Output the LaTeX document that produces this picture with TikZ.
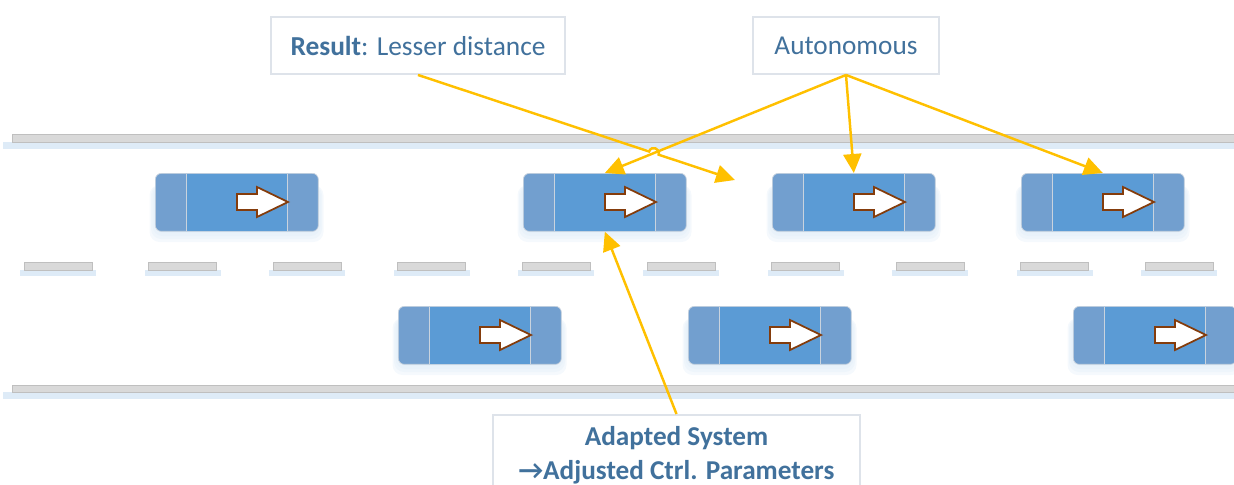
\documentclass[tikz,border=0pt]{standalone}
\usepackage{fontspec}
\setmainfont{Carlito}
\usetikzlibrary{calc,arrows.meta}

\definecolor{roadgray}{HTML}{D9D9D9}
\definecolor{roadedge}{HTML}{BFBFBF}
\definecolor{glow}{HTML}{DEEBF7}
\definecolor{carside}{HTML}{729FCF}
\definecolor{carmid}{HTML}{5B9BD5}
\definecolor{cardiv}{HTML}{C9D3DE}
\definecolor{arrowbrown}{HTML}{843C0C}
\definecolor{textblue}{HTML}{41719C}
\definecolor{boxedge}{HTML}{DEE3EA}
\definecolor{linkgold}{HTML}{FFC000}

\tikzset{
  car/.style={anchor=north west, draw=cardiv, fill=carside, rounded corners=0.12cm,
    minimum width=3.26cm, minimum height=1.16cm, inner sep=0pt},
  carglow/.style={fill=glow, opacity=0.3, rounded corners=0.2cm},
  labelbox/.style={draw=boxedge, line width=1.1pt, fill=white, text=textblue, inner sep=0pt},
  conn/.style={draw=linkgold, line width=1.4pt, -{Triangle[length=0.38cm,width=0.36cm]}},
}

% car: name, top left corner
\newcommand\vehicle[2]{%
  \foreach \gl in {2,5,8,11}
    \fill[carglow] ($(#2)+(-0.5*\gl,12)$) rectangle ($(#2)+(163+0.5*\gl,58+\gl)$);
  \node[car] (#1) at (#2) {};
  \fill[carmid] ($(#1.north west)+(31,0.6)$) rectangle ($(#1.south west)+(132,-0.6)$);
  \draw[cardiv, line width=0.5pt] ($(#1.north west)+(31,0.6)$) -- ($(#1.south west)+(31,-0.6)$);
  \draw[cardiv, line width=0.5pt] ($(#1.north west)+(132,0.6)$) -- ($(#1.south west)+(132,-0.6)$);
  \draw[arrowbrown, fill=white, line width=1pt] ($(#1.north west)+(82,21)$) -- ++(20,0) -- ++(0,-7)
    -- ++(31,15) -- ++(-31,15) -- ++(0,-7) -- ++(-20,0) -- cycle;
}

\begin{document}
\begin{tikzpicture}[x=0.02cm, y=-0.02cm]
  \useasboundingbox (0,0) rectangle (1234,484);
  \clip (0,0) rectangle (1234,484);

  % road edges
  \fill[glow] (3,142) rectangle (1240,149);
  \filldraw[fill=roadgray, draw=roadedge, line width=0.5pt] (12,134) rectangle (1240,142);
  \fill[glow] (3,392) rectangle (1240,399);
  \filldraw[fill=roadgray, draw=roadedge, line width=0.5pt] (12,385) rectangle (1240,392);

  % lane marks
  \foreach \i in {0,...,9} {
    \fill[glow] ({20+124.6*\i},270) rectangle ++(76,6);
    \filldraw[fill=roadgray, draw=roadedge, line width=0.4pt] ({24+124.6*\i},262) rectangle ++(68,8);
  }

  % upper lane
  \vehicle{car1}{155,173}
  \vehicle{car2}{523,173}
  \vehicle{car3}{772,173}
  \vehicle{car4}{1021,173}
  % lower lane
  \vehicle{car5}{398,306}
  \vehicle{car6}{688,306}
  \vehicle{car7}{1073,306}

  % labels
  \node[labelbox, minimum width=5.88cm, minimum height=1.14cm] (result) at (418,45.5)
    {\fontsize{15.6}{19}\selectfont\textbf{Result}: Lesser distance};
  \node[labelbox, minimum width=3.72cm, minimum height=1.14cm] (autonomous) at (846,45.5)
    {\fontsize{15.5}{18}\selectfont Autonomous};
  \node[labelbox, anchor=north, minimum width=7.34cm, minimum height=1.6cm, align=center,
    font=\bfseries\fontsize{15.5}{19.3}\selectfont] (adapted) at (676.5,414)
    {Adapted System\\→Adjusted Ctrl. Parameters};

  \coordinate (gap) at (735,180); % free space behind car2

  \draw[conn] (autonomous.south) -- (car2.north);
  \draw[conn] (autonomous.south) -- (car3.north);
  \draw[conn] (autonomous.south) -- (car4.north);
  \draw[conn] (result.south) -- ($(result.south)!0.729!(gap)$)
    to[bend left=90, looseness=1.7] ($(result.south)!0.759!(gap)$) -- (gap);
  \draw[conn] (adapted.north) -- (car2.south);
\end{tikzpicture}
\end{document}
